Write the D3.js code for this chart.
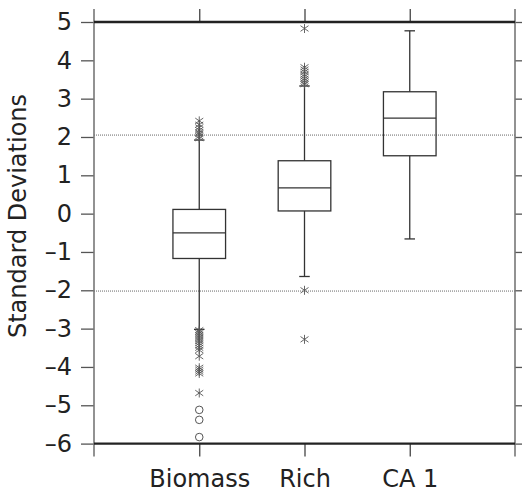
<!DOCTYPE html>
<html>
<head>
<meta charset="utf-8">
<script src="https://cdn.jsdelivr.net/npm/d3@7"></script>
<style>
  body { margin: 0; background: #fff; }
  text { font-family: "DejaVu Sans", sans-serif; fill: #222; }
</style>
</head>
<body>
<div id="chart"></div>
<script>
const categories = ["Biomass", "Rich", "CA 1"];
const q1 = [-1.17, 0.07, 1.51];
const medians = [-0.5, 0.67, 2.49];
const q3 = [0.11, 1.38, 3.18];
const whiskerLow = [-3.02, -1.64, -0.66];
const whiskerHigh = [1.92, 3.33, 4.77];
const starOutliers = [
  [1.97, 2.02, 2.08, 2.12, 2.18, 2.25, 2.32, 2.42,
   -3.04, -3.08, -3.12, -3.17, -3.22, -3.27, -3.32, -3.38, -3.44, -3.5, -3.56, -3.72,
   -4.02, -4.07, -4.12, -4.17, -4.68],
  [3.38, 3.42, 3.47, 3.52, 3.58, 3.63, 3.7, 3.76, 3.82, 4.83, -2.0, -3.28],
  []
];
const circleOutliers = [[-5.12, -5.38, -5.83], [], []];
const refLines = [2.05, -2.02];
const yTicks = [5, 4, 3, 2, 1, 0, -1, -2, -3, -4, -5, -6];
const yLabel = "Standard Deviations";

const width = 522, height = 492;
const x = d3.scaleLinear().domain([0, 4]).range([94, 515]);
const y = d3.scaleLinear().domain([-6, 5]).range([443.6, 22]);

const svg = d3.select("#chart").append("svg")
  .attr("width", width)
  .attr("height", height);

// dotted reference lines
svg.selectAll(".ref")
  .data(refLines)
  .enter().append("line")
  .attr("x1", x(0)).attr("x2", x(4))
  .attr("y1", d => y(d)).attr("y2", d => y(d))
  .attr("stroke", "#666").attr("stroke-width", 1)
  .attr("stroke-dasharray", "1,1");

// left and right axes
const fmt = d => String(d).replace("-", "\u2013");
svg.append("g")
  .attr("transform", "translate(" + x(0) + ",0)")
  .call(d3.axisLeft(y).tickValues(yTicks).tickSize(13).tickPadding(9).tickFormat(fmt))
  .call(g => g.select(".domain").remove())
  .call(g => g.selectAll("line").attr("stroke", "#555").attr("stroke-width", 1.3))
  .call(g => g.selectAll("text").attr("font-size", 24).attr("font-family", "DejaVu Sans").attr("fill", "#222"));

svg.append("g")
  .attr("transform", "translate(" + x(4) + ",0)")
  .call(d3.axisRight(y).tickValues(yTicks).tickSize(13).tickFormat(""))
  .call(g => g.select(".domain").remove())
  .call(g => g.selectAll("line").attr("stroke", "#555").attr("stroke-width", 1.3));

// vertical axis lines
svg.selectAll(".vaxis")
  .data([0, 4])
  .enter().append("line")
  .attr("x1", d => x(d)).attr("x2", d => x(d))
  .attr("y1", y(5) - 13).attr("y2", y(-6) + 13)
  .attr("stroke", "#777").attr("stroke-width", 1.6);

// top and bottom ticks
svg.append("g")
  .attr("transform", "translate(0," + y(-6) + ")")
  .call(d3.axisBottom(x).tickValues([1, 2, 3]).tickSize(13).tickPadding(13)
    .tickFormat(d => categories[d - 1]))
  .call(g => g.select(".domain").remove())
  .call(g => g.selectAll("line").attr("stroke", "#444").attr("stroke-width", 1.3))
  .call(g => g.selectAll("text").attr("font-size", 24).attr("font-family", "DejaVu Sans").attr("fill", "#222"));

svg.append("g")
  .attr("transform", "translate(0," + y(5) + ")")
  .call(d3.axisTop(x).tickValues([1, 2, 3]).tickSize(13).tickFormat(""))
  .call(g => g.select(".domain").remove())
  .call(g => g.selectAll("line").attr("stroke", "#444").attr("stroke-width", 1.3));

// thick frame lines at top and bottom
svg.selectAll(".hframe")
  .data([5, -6])
  .enter().append("line")
  .attr("x1", x(0)).attr("x2", x(4))
  .attr("y1", d => y(d)).attr("y2", d => y(d))
  .attr("stroke", "#222").attr("stroke-width", 2.4);

// y label
svg.append("text")
  .attr("transform", "translate(25.5," + 216 + ") rotate(-90)")
  .attr("text-anchor", "middle")
  .attr("font-size", 24)
  .text(yLabel);

// boxes
const boxes = svg.selectAll(".box")
  .data(categories)
  .enter().append("g");

const stroke = "#333";
boxes.append("line")
  .attr("x1", (d, i) => x(i + 1)).attr("x2", (d, i) => x(i + 1))
  .attr("y1", (d, i) => y(whiskerLow[i])).attr("y2", (d, i) => y(q1[i]))
  .attr("stroke", stroke).attr("stroke-width", 1.3);
boxes.append("line")
  .attr("x1", (d, i) => x(i + 1)).attr("x2", (d, i) => x(i + 1))
  .attr("y1", (d, i) => y(q3[i])).attr("y2", (d, i) => y(whiskerHigh[i]))
  .attr("stroke", stroke).attr("stroke-width", 1.3);
[whiskerLow, whiskerHigh].forEach(arr => {
  boxes.append("line")
    .attr("x1", (d, i) => x(i + 1 - 0.05)).attr("x2", (d, i) => x(i + 1 + 0.05))
    .attr("y1", (d, i) => y(arr[i])).attr("y2", (d, i) => y(arr[i]))
    .attr("stroke", stroke).attr("stroke-width", 1.3);
});
boxes.append("rect")
  .attr("x", (d, i) => x(i + 1 - 0.25))
  .attr("width", x(1.25) - x(0.75))
  .attr("y", (d, i) => y(q3[i]))
  .attr("height", (d, i) => y(q1[i]) - y(q3[i]))
  .attr("fill", "none").attr("stroke", stroke).attr("stroke-width", 1.3);
boxes.append("line")
  .attr("x1", (d, i) => x(i + 1 - 0.25)).attr("x2", (d, i) => x(i + 1 + 0.25))
  .attr("y1", (d, i) => y(medians[i])).attr("y2", (d, i) => y(medians[i]))
  .attr("stroke", stroke).attr("stroke-width", 1.3);

// outliers
const stars = [];
starOutliers.forEach((arr, i) => arr.forEach(v => stars.push({ c: i + 1, v })));
svg.selectAll(".star")
  .data(stars)
  .enter().append("path")
  .attr("transform", d => "translate(" + x(d.c) + "," + y(d.v) + ")")
  .attr("d", "M0,-4.5V4.5M-4,-2.8L4,2.8M-4,2.8L4,-2.8")
  .attr("fill", "none").attr("stroke", "#555").attr("stroke-width", 0.9);

const circles = [];
circleOutliers.forEach((arr, i) => arr.forEach(v => circles.push({ c: i + 1, v })));
svg.selectAll(".circ")
  .data(circles)
  .enter().append("circle")
  .attr("cx", d => x(d.c)).attr("cy", d => y(d.v)).attr("r", 3.8)
  .attr("fill", "none").attr("stroke", "#555").attr("stroke-width", 1);
</script>
</body>
</html>
